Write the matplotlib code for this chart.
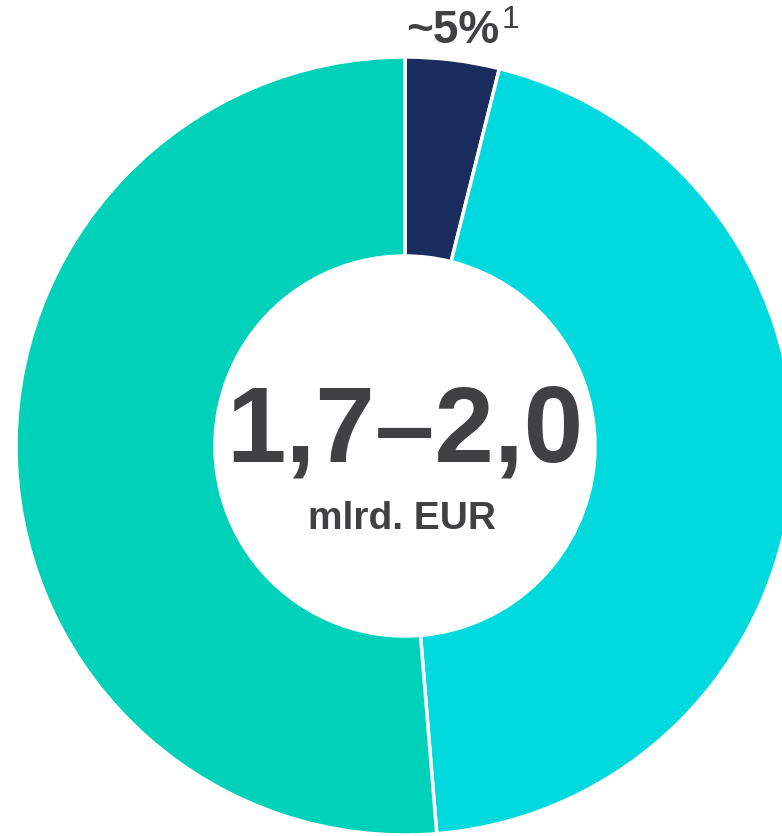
import matplotlib.pyplot as plt

# Share of the total (clockwise from 12 o'clock)
segments = ['Segment A', 'Segment B', 'Segment C']
shares = [3.9, 44.8, 51.3]
colors = ['#1a2e5e', '#00d9de', '#00d1b9']

total_text = '1,7–2,0'
unit_text = 'mlrd. EUR'
small_label = '~5%'
footnote = '1'

plt.rcParams['font.family'] = ['Liberation Sans', 'DejaVu Sans']
text_color = '#414143'

fig = plt.figure(figsize=(7.82, 8.36), dpi=100)
ax = fig.add_axes([0, 0, 1, 1])

# Work in pixel-like units so the donut can sit partly outside the frame
cx, cy = 405, 836 - 446
r_out, r_in = 389, 190

ax.pie(shares, colors=colors, startangle=90, counterclock=False,
       radius=r_out, center=(cx, cy),
       wedgeprops=dict(width=r_out - r_in, edgecolor='white', linewidth=2.5))

ax.set_xlim(0, 782)
ax.set_ylim(0, 836)
ax.set_aspect('equal')
ax.axis('off')

# Centre labels
ax.text(cx, 836 - 433, total_text, ha='center', va='center', fontsize=77,
        fontweight='bold', color=text_color)
ax.text(cx - 3, 836 - 519, unit_text, ha='center', va='center', fontsize=28,
        fontweight='bold', color=text_color)

# Label for the small slice, with footnote marker
ax.text(453, 836 - 31, small_label, ha='center', va='center', fontsize=33,
        fontweight='bold', color=text_color)
ax.text(502, 836 - 20, footnote, ha='left', va='center', fontsize=23,
        color=text_color)

fig.savefig('out.png', dpi=100)
